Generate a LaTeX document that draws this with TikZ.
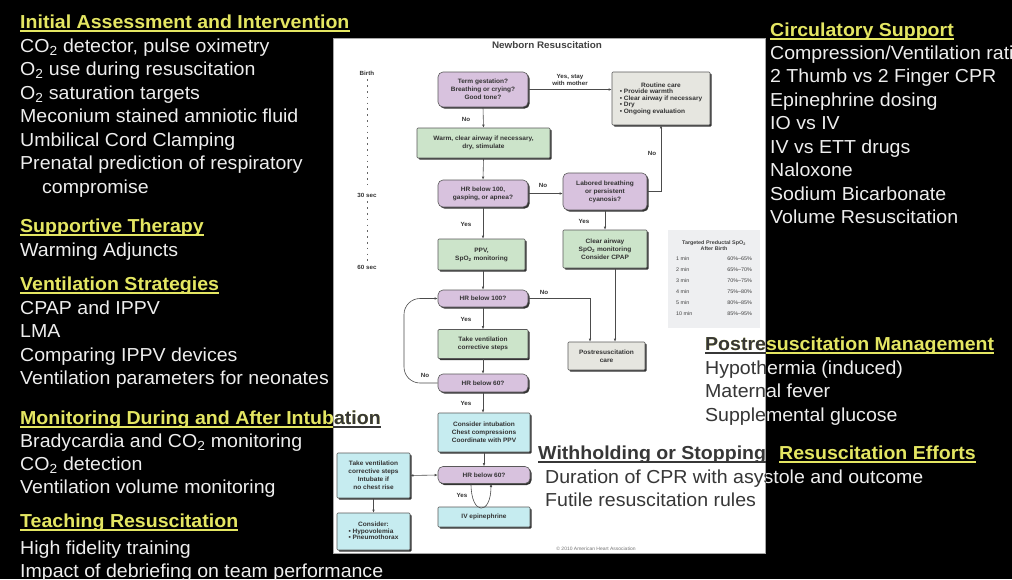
\documentclass[tikz,border=0pt]{standalone}
\usepackage{fontspec}
\setmainfont{Liberation Sans}[FakeStretch=1.04]
\usetikzlibrary{shadows,arrows.meta,calc}
\definecolor{slideyellow}{RGB}{228,230,98}
\definecolor{bodywhite}{RGB}{238,238,238}
\definecolor{darktext}{RGB}{55,55,55}
\definecolor{purp}{RGB}{216,194,222}
\definecolor{grn}{RGB}{204,228,202}
\definecolor{cyn}{RGB}{198,236,240}
\definecolor{gry}{RGB}{230,230,224}
\definecolor{tabbg}{RGB}{238,239,241}
\tikzset{
 body/.style={anchor=base west, inner sep=0pt, font=\fontsize{18.8}{22}\selectfont},
 head/.style={anchor=base west, inner sep=0pt, font=\fontsize{18.8}{22}\selectfont\bfseries},
 uline/.style={line width=1.8pt},
 fc/.style={draw=black!65, line width=0.6pt, align=center, font=\fontsize{6.3}{8}\selectfont\bfseries, text=black!80, inner sep=0pt,
   drop shadow={shadow xshift=1.6pt, shadow yshift=-1.6pt, fill=black!80, opacity=1}},
 decision/.style={fc, fill=purp, rounded corners=5pt},
 greenbox/.style={fc, fill=grn, rounded corners=1pt},
 cyanbox/.style={fc, fill=cyn, rounded corners=1pt},
 graybox/.style={fc, fill=gry, rounded corners=1pt},
 arr/.style={draw=black!70, line width=0.6pt, -{Latex[length=3pt,width=2.6pt]}},
 dblarr/.style={draw=black!70, line width=0.6pt, {Latex[length=3pt,width=2.6pt]}-{Latex[length=3pt,width=2.6pt]}},
 lbl/.style={font=\fontsize{6}{7}\selectfont\bfseries, text=black!80, inner sep=0pt, align=center},
 timeaxis/.style={draw=black!60, line width=0.8pt, dash pattern=on 1.6pt off 4.2pt},
}
\newcommand\slidehead[4]{%
  \node[head,text=#4] (#1) at (#2) {#3};
  \draw[uline,draw=#4] ([yshift=-3pt]#1.base west) -- ([yshift=-3pt]#1.base east);
}
\newcommand\crosstexts[3]{%
  \slidehead{mon#1}{20,424}{Monitoring During and After Intubation}{#3}
  \slidehead{pm#1}{705,350}{Postresuscitation Management}{#3}
  \node[body,text=#2] (hy#1) at (705,374) {Hypothermia (induced)};
  \node[body,text=#2] (mf#1) at (705,397) {Maternal fever};
  \node[body,text=#2] (sg#1) at (705,421) {Supplemental glucose};
  \node[body,text=#2] (du#1) at (545,483) {Duration of CPR with asystole and outcome};
}
\begin{document}
\begin{tikzpicture}[x=1pt,y=-1pt]
\useasboundingbox (0,0) rectangle (1012,579);
\clip (0,0) rectangle (1012,579);
\fill[black] (0,0) rectangle (1012,579);
\node[fill=white, draw=black!35, line width=0.8pt, minimum width=432pt, minimum height=515pt, inner sep=0pt, anchor=north west] (panel) at (333,38) {};

% ---------- flowchart ----------
\node[font=\fontsize{9.5}{11}\selectfont\bfseries, text=black!75, inner sep=0pt] (title) at (547,45) {Newborn Resuscitation};
\node[lbl] (birth) at (367,73) {Birth};
\node[lbl] (s30) at (367,195) {30 sec};
\node[lbl] (s60) at (367,267) {60 sec};
\draw[timeaxis] ([yshift=-4pt]birth.south) -- ([yshift=4pt]s30.north);
\draw[timeaxis] ([yshift=-4pt]s30.south) -- ([yshift=4pt]s60.north);

\node[decision, minimum width=90pt, minimum height=35pt] (q1) at (483,89.5) {Term gestation?\\Breathing or crying?\\Good tone?};
\node[graybox, minimum width=98pt, minimum height=53pt] (rc) at (661,98.5)
  {\begin{tabular}{@{}l@{}}\multicolumn{1}{c}{Routine care}\\[-1.5pt] • Provide warmth\\[-1.5pt] • Clear airway if necessary\\[-1.5pt] • Dry\\[-1.5pt] • Ongoing evaluation\end{tabular}};
\node[greenbox, minimum width=133pt, minimum height=30pt] (warm) at (483.5,143) {Warm, clear airway if necessary,\\dry, stimulate};
\node[decision, minimum width=90pt, minimum height=27pt] (q2) at (483,193.5) {HR below 100,\\gasping, or apnea?};
\node[decision, minimum width=84pt, minimum height=37pt] (q3) at (605,191.5) {Labored breathing\\or persistent\\cyanosis?};
\node[greenbox, minimum width=84pt, minimum height=38pt] (ca) at (605,249) {Clear airway\\SpO\textsubscript{2} monitoring\\Consider CPAP};
\node[greenbox, minimum width=87pt, minimum height=31pt] (ppv) at (481.5,254.5) {PPV,\\SpO\textsubscript{2} monitoring};
\node[decision, minimum width=90pt, minimum height=17pt] (q4) at (483,298.5) {HR below 100?};
\node[greenbox, minimum width=90pt, minimum height=29pt] (tv) at (483,344) {Take ventilation\\corrective steps};
\node[graybox, minimum width=77pt, minimum height=28pt] (prc) at (606.5,356) {Postresuscitation\\care};
\node[decision, minimum width=90pt, minimum height=18pt] (q5) at (483,383) {HR below 60?};
\node[cyanbox, minimum width=92pt, minimum height=39pt] (ci) at (484,432.5) {Consider intubation\\Chest compressions\\Coordinate with PPV};
\node[decision, minimum width=92pt, minimum height=17pt] (q6) at (484,475) {HR below 60?};
\node[cyanbox, minimum width=73pt, minimum height=45pt] (tv2) at (373.5,475.5) {Take ventilation\\corrective steps\\Intubate if\\no chest rise};
\node[cyanbox, minimum width=73pt, minimum height=37pt] (cons) at (373.5,531.5)
  {\begin{tabular}{@{}l@{}}\multicolumn{1}{c}{Consider:}\\[-1.5pt] • Hypovolemia\\[-1.5pt] • Pneumothorax\end{tabular}};
\node[cyanbox, minimum width=92pt, minimum height=20pt] (epi) at (484,517) {IV epinephrine};

\node[fill=tabbg, minimum width=92pt, minimum height=98pt, inner sep=0pt, font=\fontsize{5.2}{6.4}\selectfont, text=black!75] (tab) at (714,279)
  {\begin{tabular}{@{}l@{\hspace{24pt}}r@{}}\multicolumn{2}{c}{\bfseries Targeted Preductal SpO\textsubscript{2}}\\[-1pt]
   \multicolumn{2}{c}{\bfseries After Birth}\\[4pt]
   1 min & 60\%–65\%\\[4.6pt] 2 min & 65\%–70\%\\[4.6pt] 3 min & 70\%–75\%\\[4.6pt]
   4 min & 75\%–80\%\\[4.6pt] 5 min & 80\%–85\%\\[4.6pt] 10 min & 85\%–95\%\end{tabular}};
\node[font=\fontsize{4.8}{6}\selectfont, text=black!55, inner sep=0pt] (copy) at (596,549) {© 2010 American Heart Association};

% connectors
\draw[arr] (q1.east) -- (q1.east -| rc.west);
\node[lbl] (lyes1) at (570,80) {Yes, stay\\with mother};
\draw[arr] (q1.south) -- (warm.north);
\node[lbl] (lno1) at (466,119) {No};
\draw[arr] (warm.south) -- (q2.north);
\draw[arr] (q2.east) -- (q2.east -| q3.west);
\node[lbl] (lno2) at (543,185) {No};
\draw[arr] (q3.east) -| (rc.south);
\node[lbl] (lno3) at (652,153) {No};
\draw[arr] (q3.south) -- (ca.north);
\node[lbl] (lyes3) at (584,221) {Yes};
\draw[arr] (q2.south) -- (q2.south |- ppv.north);
\node[lbl] (lyes2) at (466,224) {Yes};
\draw[arr] (ppv.south -| q4.north) -- (q4.north);
\draw[arr] (q4.east) -| ([xshift=-16.5pt]prc.north);
\node[lbl] (lno4) at (544,292) {No};
\draw[arr] ([xshift=10pt]ca.south) -- ([xshift=8.5pt]prc.north);
\draw[arr] (q4.south) -- (tv.north);
\node[lbl] (lyes4) at (466,319) {Yes};
\draw[arr] (tv.south) -- (q5.north);
\draw[arr, rounded corners=16pt] (q5.west) -| (404,340) |- (q4.west);
\node[lbl] (lno5) at (425,375) {No};
\draw[arr] (q5.south) -- (q5.south |- ci.north);
\node[lbl] (lyes5) at (466,403) {Yes};
\draw[arr] (ci.south -| q6.north) -- (q6.north);
\draw[dblarr] (tv2.east) -- (q6.west);
\draw[arr] (tv2.south) -- (cons.north);
\draw[arr] ([xshift=-13pt]q6.south) .. controls ([xshift=-13pt,yshift=-32pt]q6.south) and ([xshift=7pt,yshift=-32pt]q6.south) .. ([xshift=7pt]q6.south);
\node[lbl] (lyes6) at (462,495) {Yes};

% ---------- slide text ----------
\slidehead{h1}{20,28}{Initial Assessment and Intervention}{slideyellow}
\node[body,text=bodywhite] (a1) at (20,52) {CO\textsubscript{2} detector, pulse oximetry};
\node[body,text=bodywhite] (a2) at (20,75) {O\textsubscript{2} use during resuscitation};
\node[body,text=bodywhite] (a3) at (20,99) {O\textsubscript{2} saturation targets};
\node[body,text=bodywhite] (a4) at (20,122) {Meconium stained amniotic fluid};
\node[body,text=bodywhite] (a5) at (20,146) {Umbilical Cord Clamping};
\node[body,text=bodywhite] (a6) at (20,169) {Prenatal prediction of respiratory};
\node[body,text=bodywhite] (a7) at (42,193) {compromise};
\slidehead{h2}{20,232}{Supportive Therapy}{slideyellow}
\node[body,text=bodywhite] (b1) at (20,256) {Warming Adjuncts};
\slidehead{h3}{20,290}{Ventilation Strategies}{slideyellow}
\node[body,text=bodywhite] (c1) at (20,314) {CPAP and IPPV};
\node[body,text=bodywhite] (c2) at (20,337) {LMA};
\node[body,text=bodywhite] (c3) at (20,361) {Comparing IPPV devices};
\node[body,text=bodywhite] (c4) at (20,384) {Ventilation parameters for neonates};
\node[body,text=bodywhite] (d1) at (20,447) {Bradycardia and CO\textsubscript{2} monitoring};
\node[body,text=bodywhite] (d2) at (20,470) {CO\textsubscript{2} detection};
\node[body,text=bodywhite] (d3) at (20,493) {Ventilation volume monitoring};
\slidehead{h5}{20,527}{Teaching Resuscitation}{slideyellow}
\node[body,text=bodywhite] (e1) at (20,554) {High fidelity training};
\node[body,text=bodywhite] (e2) at (20,577) {Impact of debriefing on team performance};

\slidehead{h6}{770,36}{Circulatory Support}{slideyellow}
\node[body,text=bodywhite] (f1) at (770,59) {Compression/Ventilation ratio};
\node[body,text=bodywhite] (f2) at (770,82) {2 Thumb vs 2 Finger CPR};
\node[body,text=bodywhite] (f3) at (770,106) {Epinephrine dosing};
\node[body,text=bodywhite] (f4) at (770,129) {IO vs IV};
\node[body,text=bodywhite] (f5) at (770,153) {IV vs ETT drugs};
\node[body,text=bodywhite] (f6) at (770,176) {Naloxone};
\node[body,text=bodywhite] (f7) at (770,200) {Sodium Bicarbonate};
\node[body,text=bodywhite] (f8) at (770,223) {Volume Resuscitation};

\slidehead{w1}{538,459}{Withholding or Stopping}{darktext}
\slidehead{w2}{779,459}{Resuscitation Efforts}{slideyellow}
\node[body,text=darktext] (fu) at (545,506) {Futile resuscitation rules};

\crosstexts{}{bodywhite}{slideyellow}
\begin{scope}
  \clip (panel.north west) rectangle (panel.south east);
  \crosstexts{d}{darktext}{darktext}
\end{scope}
\end{tikzpicture}
\end{document}
